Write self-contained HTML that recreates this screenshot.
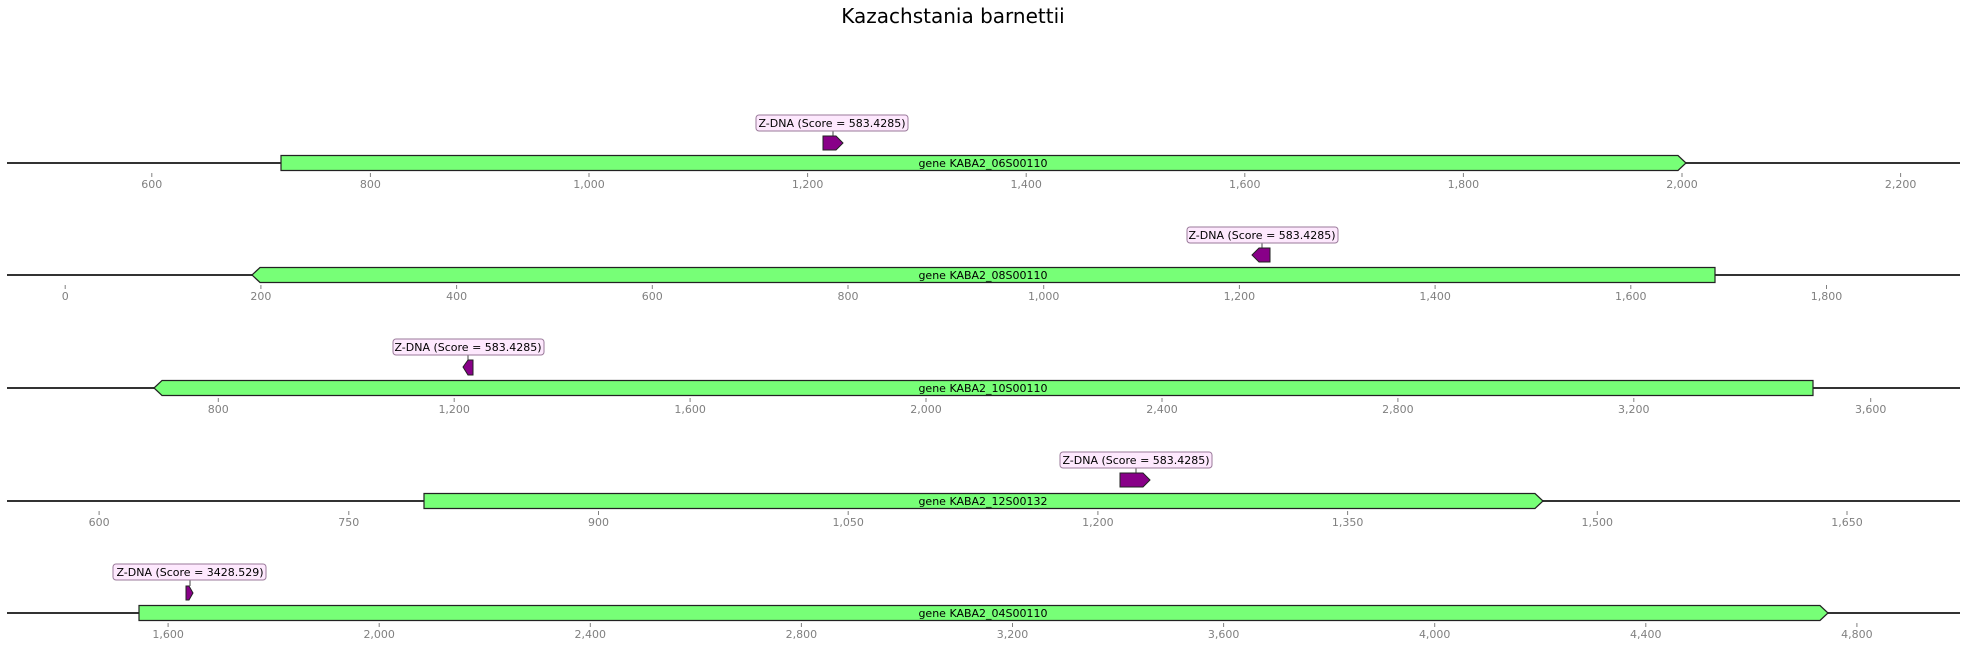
<!DOCTYPE html>
<html><head><meta charset="utf-8"><style>
html,body{margin:0;padding:0;background:#fff;}
svg{display:block;}
text{font-family:"DejaVu Sans","Liberation Sans",sans-serif;}
.t{font-size:11px;fill:#808080;text-anchor:middle;}
.tk{stroke:#808080;stroke-width:1;}
.bl{stroke:#333;stroke-width:2;}
.g{fill:#77ff77;stroke:#222;stroke-width:1.2;}
.z{fill:#880088;stroke:#222;stroke-width:1;}
.lb{fill:#fde8fd;stroke:#9a7a9a;stroke-width:1;}
.lt{font-size:11px;fill:#000;text-anchor:middle;}
.gl{font-size:11px;fill:#000;text-anchor:middle;}
</style></head><body>
<svg width="1967" height="647" viewBox="0 0 1967 647" xmlns="http://www.w3.org/2000/svg">
<text x="953" y="23" font-size="20" text-anchor="middle" fill="#000">Kazachstania barnettii</text>

<!-- Row 1 -->
<line class="bl" x1="7" y1="163" x2="1960" y2="163"/>
<path class="g" d="M281 155.5 L1678 155.5 L1686 163 L1678 170.5 L281 170.5 Z"/>
<text class="gl" x="983" y="167">gene KABA2_06S00110</text>
<line stroke="#444" x1="833" y1="131" x2="833" y2="136"/>
<path class="z" d="M823 136 L836 136 L843 143 L836 150 L823 150 Z"/>
<rect class="lb" x="756" y="115" width="152" height="16" rx="3"/>
<text class="lt" x="832" y="127">Z-DNA (Score = 583.4285)</text>
<g class="tk">
<line x1="151.8" y1="173" x2="151.8" y2="177"/><line x1="370.4" y1="173" x2="370.4" y2="177"/><line x1="589" y1="173" x2="589" y2="177"/><line x1="807.6" y1="173" x2="807.6" y2="177"/><line x1="1026.2" y1="173" x2="1026.2" y2="177"/><line x1="1244.8" y1="173" x2="1244.8" y2="177"/><line x1="1463.4" y1="173" x2="1463.4" y2="177"/><line x1="1682" y1="173" x2="1682" y2="177"/><line x1="1900.6" y1="173" x2="1900.6" y2="177"/>
</g>
<text class="t" x="151.8" y="188">600</text><text class="t" x="370.4" y="188">800</text><text class="t" x="589" y="188">1,000</text><text class="t" x="807.6" y="188">1,200</text><text class="t" x="1026.2" y="188">1,400</text><text class="t" x="1244.8" y="188">1,600</text><text class="t" x="1463.4" y="188">1,800</text><text class="t" x="1682" y="188">2,000</text><text class="t" x="1900.6" y="188">2,200</text>

<!-- Row 2 -->
<line class="bl" x1="7" y1="275" x2="1960" y2="275"/>
<path class="g" d="M252 275 L260 267.5 L1715 267.5 L1715 282.5 L260 282.5 Z"/>
<text class="gl" x="983" y="279">gene KABA2_08S00110</text>
<line stroke="#444" x1="1262" y1="243" x2="1262" y2="248"/>
<path class="z" d="M1252 255 L1259 248 L1270 248 L1270 262 L1259 262 Z"/>
<rect class="lb" x="1187" y="227" width="151" height="16" rx="3"/>
<text class="lt" x="1262" y="239">Z-DNA (Score = 583.4285)</text>
<g class="tk">
<line x1="65.2" y1="285" x2="65.2" y2="289"/><line x1="260.9" y1="285" x2="260.9" y2="289"/><line x1="456.6" y1="285" x2="456.6" y2="289"/><line x1="652.3" y1="285" x2="652.3" y2="289"/><line x1="848" y1="285" x2="848" y2="289"/><line x1="1043.7" y1="285" x2="1043.7" y2="289"/><line x1="1239.4" y1="285" x2="1239.4" y2="289"/><line x1="1435.1" y1="285" x2="1435.1" y2="289"/><line x1="1630.8" y1="285" x2="1630.8" y2="289"/><line x1="1826.5" y1="285" x2="1826.5" y2="289"/>
</g>
<text class="t" x="65.2" y="300">0</text><text class="t" x="260.9" y="300">200</text><text class="t" x="456.6" y="300">400</text><text class="t" x="652.3" y="300">600</text><text class="t" x="848" y="300">800</text><text class="t" x="1043.7" y="300">1,000</text><text class="t" x="1239.4" y="300">1,200</text><text class="t" x="1435.1" y="300">1,400</text><text class="t" x="1630.8" y="300">1,600</text><text class="t" x="1826.5" y="300">1,800</text>

<!-- Row 3 -->
<line class="bl" x1="7" y1="388" x2="1960" y2="388"/>
<path class="g" d="M154 388 L162 380.5 L1813 380.5 L1813 395.5 L162 395.5 Z"/>
<text class="gl" x="983" y="392">gene KABA2_10S00110</text>
<line stroke="#444" x1="468" y1="355" x2="468" y2="360"/>
<path class="z" d="M463 367 L468 360 L473 360 L473 375 L468 375 Z"/>
<rect class="lb" x="393" y="339" width="151" height="16" rx="3"/>
<text class="lt" x="468" y="351">Z-DNA (Score = 583.4285)</text>
<g class="tk">
<line x1="218.3" y1="398" x2="218.3" y2="402"/><line x1="454.2" y1="398" x2="454.2" y2="402"/><line x1="690.1" y1="398" x2="690.1" y2="402"/><line x1="926" y1="398" x2="926" y2="402"/><line x1="1162" y1="398" x2="1162" y2="402"/><line x1="1397.9" y1="398" x2="1397.9" y2="402"/><line x1="1633.8" y1="398" x2="1633.8" y2="402"/><line x1="1870.7" y1="398" x2="1870.7" y2="402"/>
</g>
<text class="t" x="218.3" y="413">800</text><text class="t" x="454.2" y="413">1,200</text><text class="t" x="690.1" y="413">1,600</text><text class="t" x="926" y="413">2,000</text><text class="t" x="1162" y="413">2,400</text><text class="t" x="1397.9" y="413">2,800</text><text class="t" x="1633.8" y="413">3,200</text><text class="t" x="1870.7" y="413">3,600</text>

<!-- Row 4 -->
<line class="bl" x1="7" y1="501" x2="1960" y2="501"/>
<path class="g" d="M424 493.5 L1535 493.5 L1543 501 L1535 508.5 L424 508.5 Z"/>
<text class="gl" x="983" y="505">gene KABA2_12S00132</text>
<line stroke="#444" x1="1136" y1="468" x2="1136" y2="473"/>
<path class="z" d="M1120 473 L1143 473 L1150 480 L1143 487 L1120 487 Z"/>
<rect class="lb" x="1060" y="452" width="152" height="16" rx="3"/>
<text class="lt" x="1136" y="464">Z-DNA (Score = 583.4285)</text>
<g class="tk">
<line x1="99.1" y1="511" x2="99.1" y2="515"/><line x1="348.8" y1="511" x2="348.8" y2="515"/><line x1="598.5" y1="511" x2="598.5" y2="515"/><line x1="848.2" y1="511" x2="848.2" y2="515"/><line x1="1097.9" y1="511" x2="1097.9" y2="515"/><line x1="1347.6" y1="511" x2="1347.6" y2="515"/><line x1="1597.3" y1="511" x2="1597.3" y2="515"/><line x1="1847" y1="511" x2="1847" y2="515"/>
</g>
<text class="t" x="99.1" y="526">600</text><text class="t" x="348.8" y="526">750</text><text class="t" x="598.5" y="526">900</text><text class="t" x="848.2" y="526">1,050</text><text class="t" x="1097.9" y="526">1,200</text><text class="t" x="1347.6" y="526">1,350</text><text class="t" x="1597.3" y="526">1,500</text><text class="t" x="1847" y="526">1,650</text>

<!-- Row 5 -->
<line class="bl" x1="7" y1="613" x2="1960" y2="613"/>
<path class="g" d="M139 605.5 L1820 605.5 L1828 613 L1820 620.5 L139 620.5 Z"/>
<text class="gl" x="983" y="617">gene KABA2_04S00110</text>
<line stroke="#444" x1="190" y1="580" x2="190" y2="586"/>
<path class="z" d="M186 586 L189 586 L193 593 L189 600 L186 600 Z"/>
<rect class="lb" x="113" y="564" width="153" height="16" rx="3"/>
<text class="lt" x="190" y="576">Z-DNA (Score = 3428.529)</text>
<g class="tk">
<line x1="168.1" y1="623" x2="168.1" y2="627"/><line x1="379.2" y1="623" x2="379.2" y2="627"/><line x1="590.3" y1="623" x2="590.3" y2="627"/><line x1="801.4" y1="623" x2="801.4" y2="627"/><line x1="1012.5" y1="623" x2="1012.5" y2="627"/><line x1="1223.6" y1="623" x2="1223.6" y2="627"/><line x1="1434.7" y1="623" x2="1434.7" y2="627"/><line x1="1645.8" y1="623" x2="1645.8" y2="627"/><line x1="1856.9" y1="623" x2="1856.9" y2="627"/>
</g>
<text class="t" x="168.1" y="638">1,600</text><text class="t" x="379.2" y="638">2,000</text><text class="t" x="590.3" y="638">2,400</text><text class="t" x="801.4" y="638">2,800</text><text class="t" x="1012.5" y="638">3,200</text><text class="t" x="1223.6" y="638">3,600</text><text class="t" x="1434.7" y="638">4,000</text><text class="t" x="1645.8" y="638">4,400</text><text class="t" x="1856.9" y="638">4,800</text>
</svg>
</body></html>
